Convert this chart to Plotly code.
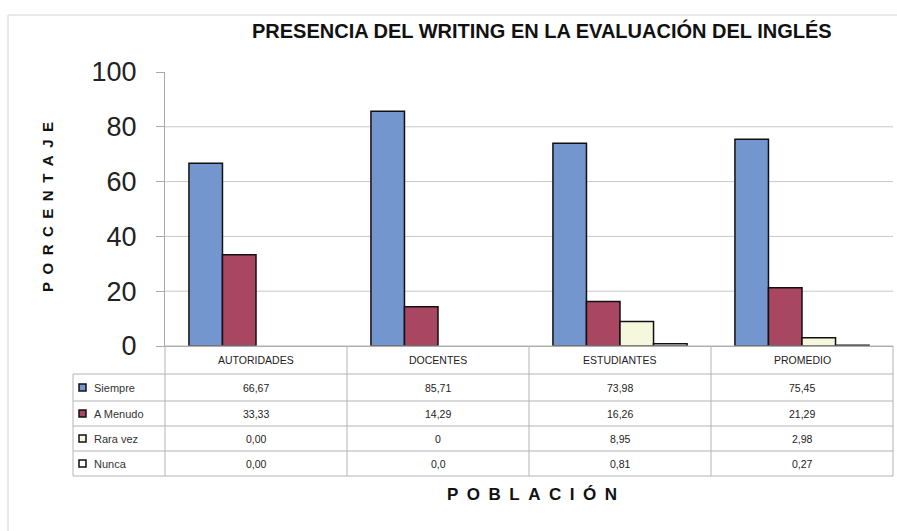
import plotly.graph_objects as go

W, H = 897, 531

categories = ["AUTORIDADES", "DOCENTES", "ESTUDIANTES", "PROMEDIO"]
series_names = ["Siempre", "A Menudo", "Rara vez", "Nunca"]
siempre = [66.67, 85.71, 73.98, 75.45]
a_menudo = [33.33, 14.29, 16.26, 21.29]
rara_vez = [0.00, 0.0, 8.95, 2.98]
nunca = [0.00, 0.0, 0.81, 0.27]
siempre_txt = ["66,67", "85,71", "73,98", "75,45"]
a_menudo_txt = ["33,33", "14,29", "16,26", "21,29"]
rara_vez_txt = ["0,00", "0", "8,95", "2,98"]
nunca_txt = ["0,00", "0,0", "0,81", "0,27"]
y_ticks = [0, 20, 40, 60, 80, 100]
grid_vals = [20, 40, 60, 80]

title = "PRESENCIA DEL WRITING EN LA EVALUACIÓN DEL INGLÉS"
y_title = "PORCENTAJE"
x_title = "POBLACIÓN"

colors = ["#7396cf", "#a94763", "#f6f8de", "#ffffff"]
values = [siempre, a_menudo, rara_vez, nunca]
texts = [siempre_txt, a_menudo_txt, rara_vez_txt, nunca_txt]


def px(x):
    return x / W


def py(y):
    return 1 - y / H


# layout pixel geometry
PL, PR, PT, PB = 165, 893, 72, 346
TL = 73
rows = [346, 374, 401, 426, 451, 476]
GRID = "#c9c9c9"
FONT = "Liberation Sans, Arial, sans-serif"

fig = go.Figure()
for name, vals, col in zip(series_names, values, colors):
    fig.add_trace(go.Bar(
        x=categories, y=vals, name=name,
        marker=dict(color=col, line=dict(color="#111111",
                                         width=[1.5 if v > 0 else 0 for v in vals])),
        showlegend=False, hoverinfo="x+y+name",
    ))

shapes = []
for g in grid_vals:
    shapes.append(dict(type="line", xref="paper", yref="y", x0=px(PL), x1=px(PR),
                       y0=g, y1=g, line=dict(color=GRID, width=1), layer="below"))
# outer frame
shapes.append(dict(type="line", xref="paper", yref="paper", x0=px(8), x1=1,
                   y0=py(15), y1=py(15), line=dict(color="#d4d4d4", width=1)))
shapes.append(dict(type="line", xref="paper", yref="paper", x0=px(8), x1=px(8),
                   y0=py(15), y1=0, line=dict(color="#d4d4d4", width=1)))

# table lines
TC = "#b4b4b4"
shapes.append(dict(type="line", xref="paper", yref="paper", x0=px(PL), x1=px(PR),
                   y0=py(rows[0]), y1=py(rows[0]), line=dict(color=TC, width=1)))
for r in rows[1:]:
    shapes.append(dict(type="line", xref="paper", yref="paper", x0=px(TL), x1=px(PR),
                       y0=py(r), y1=py(r), line=dict(color=TC, width=1)))
ncat = len(categories)
cw = (PR - PL) / ncat
for i in range(ncat + 1):
    xx = PL + i * cw
    shapes.append(dict(type="line", xref="paper", yref="paper", x0=px(xx), x1=px(xx),
                       y0=py(rows[0]), y1=py(rows[-1]), line=dict(color=TC, width=1)))
shapes.append(dict(type="line", xref="paper", yref="paper", x0=px(TL), x1=px(TL),
                   y0=py(rows[1]), y1=py(rows[-1]), line=dict(color=TC, width=1)))

annotations = []
TF = dict(family=FONT, size=10.5, color="#222222")
for c in categories:
    annotations.append(dict(x=c, xref="x", y=py((rows[0] + rows[1]) / 2), yref="paper",
                            text=c, showarrow=False, font=TF,
                            xanchor="center", yanchor="middle"))
for j, (name, txts, col) in enumerate(zip(series_names, texts, colors)):
    yc = (rows[j + 1] + rows[j + 2]) / 2
    for c, t in zip(categories, txts):
        annotations.append(dict(x=c, xref="x", y=py(yc), yref="paper", text=t,
                                showarrow=False, font=TF,
                                xanchor="center", yanchor="middle"))
    shapes.append(dict(type="rect", xref="paper", yref="paper",
                       x0=px(79), x1=px(86), y0=py(yc - 3.5), y1=py(yc + 3.5),
                       fillcolor=col, line=dict(color="#111111", width=1.5)))
    annotations.append(dict(x=px(92), xref="paper", y=py(yc), yref="paper", text=name,
                            xanchor="left", yanchor="middle", showarrow=False,
                            font=dict(family=FONT, size=11, color="#333333")))

# titles
annotations.append(dict(x=px(542), xref="paper", y=py(30), yref="paper", text=title,
                        showarrow=False, xanchor="center", yanchor="middle",
                        font=dict(family=FONT, size=20, color="#111111", weight="bold")))
sp = "\u2002"
annotations.append(dict(x=px(47), xref="paper", y=py(207), yref="paper",
                        text=sp.join(list(y_title)), textangle=-90, showarrow=False,
                        xanchor="center", yanchor="middle",
                        font=dict(family=FONT, size=15, color="#111111", weight="bold")))
annotations.append(dict(x=px(532), xref="paper", y=py(494), yref="paper",
                        text=sp.join(list(x_title)), showarrow=False,
                        xanchor="center", yanchor="middle",
                        font=dict(family=FONT, size=17, color="#111111", weight="bold")))

fig.update_layout(
    width=W, height=H,
    margin=dict(l=0, r=0, t=0, b=0, autoexpand=False),
    paper_bgcolor="white", plot_bgcolor="white",
    barmode="group", bargap=0.263, bargroupgap=0,
    shapes=shapes, annotations=annotations,
    xaxis=dict(domain=[px(PL), px(PR)], showticklabels=False, showline=True,
               linecolor="#a8a8a8", linewidth=1, ticks="", showgrid=False,
               automargin=False, fixedrange=True),
    yaxis=dict(domain=[py(PB), py(PT)], range=[0, 100], tickvals=y_ticks,
               showgrid=False, zeroline=False, showline=True, linecolor="#a8a8a8",
               linewidth=1, ticks="outside", ticklen=8, tickcolor="#a8a8a8",
               ticklabelstandoff=14, automargin=False, fixedrange=True,
               tickfont=dict(family=FONT, size=27, color="#222222")),
)

fig.write_html("out.html", config={"displayModeBar": False},
               post_script="document.body.style.margin='0';document.body.style.overflow='hidden';")
